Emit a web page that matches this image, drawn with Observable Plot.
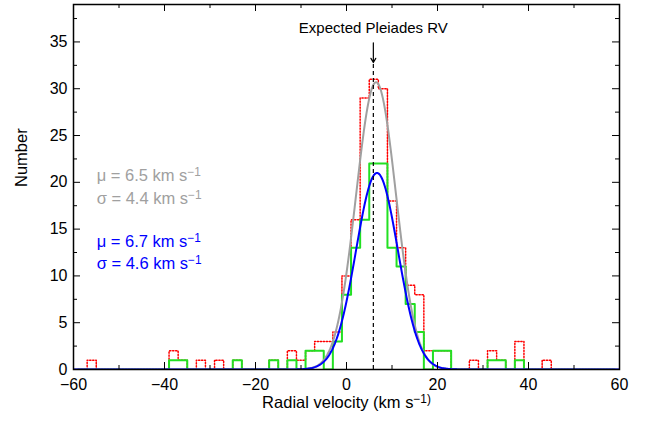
<!DOCTYPE html>
<html><head><meta charset="utf-8">
<script src="https://cdn.jsdelivr.net/npm/d3@7"></script>
<script src="https://cdn.jsdelivr.net/npm/@observablehq/plot@0.6"></script>
<style>
body{margin:0;background:#fff;}
#chart{width:647px;height:421px;}
</style>
</head><body><div id="chart"></div>
<script>
// Histogram bins (width 2 km/s, centred on even values); only non-empty bins listed
const redCenters = [-56,-38,-36,-32,-28,-24,-16,-12,-10,-8,-6,-4,-2,0,2,4,6,8,10,12,14,16,18,20,22,28,32,34,38,44];
const redCounts  = [1,2,1,1,1,1,1,2,1,2,3,3,4,10,16,29,31,30,18,13,9,8,2,2,2,1,2,1,3,1];
const greenCenters = [-38,-36,-24,-16,-12,-8,-6,-2,0,2,4,6,8,10,12,14,16,20,22,32,34,38];
const greenCounts  = [1,1,1,1,1,2,2,3,8,13,16,22,22,13,11,7,4,2,2,1,1,1];
const binWidth = 2;

// Gaussian fits shown in the figure
const fitMu    = [6.5, 6.7];
const fitSigma = [4.4, 4.6];
const fitPeak  = [30.7, 21.0];
const fitColors = ["#a0a0a0", "#0000ff"];
const fitLabels = [["μ = 6.5 km s^−1", "σ = 4.4 km s^−1"], ["μ = 6.7 km s^−1", "σ = 4.6 km s^−1"]];
const labelY = [[20.7, 18.2], [13.7, 11.3]];
const labelX = -54.9;

const expectedRV = 5.9;
const expectedText = "Expected Pleiades RV";

const xDomain = [-60, 60];
const yDomain = [0, 39];
const xTicks = [-60, -40, -20, 0, 20, 40, 60];
const xMinor = [-50, -30, -10, 10, 30, 50];
const yTicks = [0, 5, 10, 15, 20, 25, 30, 35];
const yMinor = [2.5, 7.5, 12.5, 17.5, 22.5, 27.5, 32.5, 37.5];

function stepSeries(centers, counts) {
  const m = new Map(centers.map((c, i) => [c, counts[i]]));
  const pts = [];
  for (let c = -58; c <= 58; c += binWidth) pts.push({x: c - binWidth / 2, y: m.get(c) ?? 0});
  pts.push({x: 58 + binWidth / 2, y: 0});
  return pts;
}
const redSteps = stepSeries(redCenters, redCounts);
const greenSteps = stepSeries(greenCenters, greenCounts);

const fitCurves = fitMu.map((mu, i) => {
  const s = fitSigma[i], a = fitPeak[i];
  return d3.range(-60, 60.001, 0.2).map(x => ({x, y: a * Math.exp(-((x - mu) ** 2) / (2 * s * s)), k: i}));
});

const labelRows = fitLabels.flatMap((pair, i) => pair.map((t, j) => ({t, x: labelX, y: labelY[i][j], c: fitColors[i]})));

const W = 647, H = 421;
const mL = 73, mR = 28, mT = 4, mB = 52;
const innerH = H - mT - mB, innerW = W - mL - mR;
const fmt = d => d < 0 ? "\u2212" + Math.abs(d) : String(d);

const chart = Plot.plot({
  width: W, height: H,
  marginLeft: mL, marginRight: mR, marginTop: mT, marginBottom: mB,
  style: {fontFamily: "'Liberation Sans', Arial, Helvetica, sans-serif", fontSize: "16px", background: "white", color: "black"},
  x: {domain: xDomain, axis: null},
  y: {domain: yDomain, axis: null},
  marks: [
    Plot.line(redSteps, {x: "x", y: "y", curve: "step-after", stroke: "#ff0000", strokeWidth: 1.5, strokeDasharray: "1.3,1.7", clip: true}),
    Plot.line(greenSteps, {x: "x", y: "y", curve: "step-after", stroke: "#22e022", strokeWidth: 2, clip: true}),
    Plot.line(fitCurves[0], {x: "x", y: "y", stroke: fitColors[0], strokeWidth: 2, clip: true}),
    Plot.line(fitCurves[1], {x: "x", y: "y", stroke: fitColors[1], strokeWidth: 2, clip: true}),
    Plot.ruleX([expectedRV], {y1: 0, y2: 32.8, stroke: "black", strokeWidth: 1.2, strokeDasharray: "4,3"}),
    Plot.arrow([expectedRV], {x1: d => d, x2: d => d, y1: 34.9, y2: 32.8, stroke: "black", strokeWidth: 1.2, headLength: 6}),
    Plot.text([expectedText], {x: expectedRV, y: 36.5, fontSize: 15, fill: "black"}),
    Plot.text(labelRows, {x: "x", y: "y", text: "t", fill: "c", textAnchor: "start", fontSize: 16.5}),
    // ticks (inward, mirrored)
    Plot.ruleX(xTicks, {x: d => d, insetTop: innerH - 7, stroke: "black"}),
    Plot.ruleX(xMinor, {x: d => d, insetTop: innerH - 4, stroke: "black"}),
    Plot.ruleX(xTicks, {x: d => d, insetBottom: innerH - 7, stroke: "black"}),
    Plot.ruleX(xMinor, {x: d => d, insetBottom: innerH - 4, stroke: "black"}),
    Plot.ruleY(yTicks, {y: d => d, insetRight: innerW - 7, stroke: "black"}),
    Plot.ruleY(yMinor, {y: d => d, insetRight: innerW - 4, stroke: "black"}),
    Plot.ruleY(yTicks, {y: d => d, insetLeft: innerW - 7, stroke: "black"}),
    Plot.ruleY(yMinor, {y: d => d, insetLeft: innerW - 4, stroke: "black"}),
    Plot.axisX({ticks: xTicks, tickSize: 0, tickPadding: 9, tickFormat: fmt, fontSize: 16, label: null}),
    Plot.axisY({ticks: yTicks, tickSize: 0, tickPadding: 6, tickFormat: fmt, fontSize: 16, label: null}),
    Plot.text(["Radial velocity (km s^−1)"], {frameAnchor: "bottom", dy: 38, fontSize: 16.5, fill: "black"}),
    Plot.text(["Number"], {frameAnchor: "left", dx: -52, rotate: -90, fontSize: 16.5, fill: "black"}),
    Plot.frame({stroke: "black", strokeWidth: 1.5})
  ]
});

// superscript −1
d3.select(chart).selectAll("text").each(function() {
  const t = this.textContent;
  if (t.includes("^")) {
    const [a, b] = t.split("^");
    const sel = d3.select(this);
    sel.text(null);
    sel.append("tspan").text(a);
    sel.append("tspan").attr("dy", "-0.42em").attr("font-size", "0.72em").text(b);
  }
});
document.getElementById("chart").appendChild(chart);
</script>
</body></html>
